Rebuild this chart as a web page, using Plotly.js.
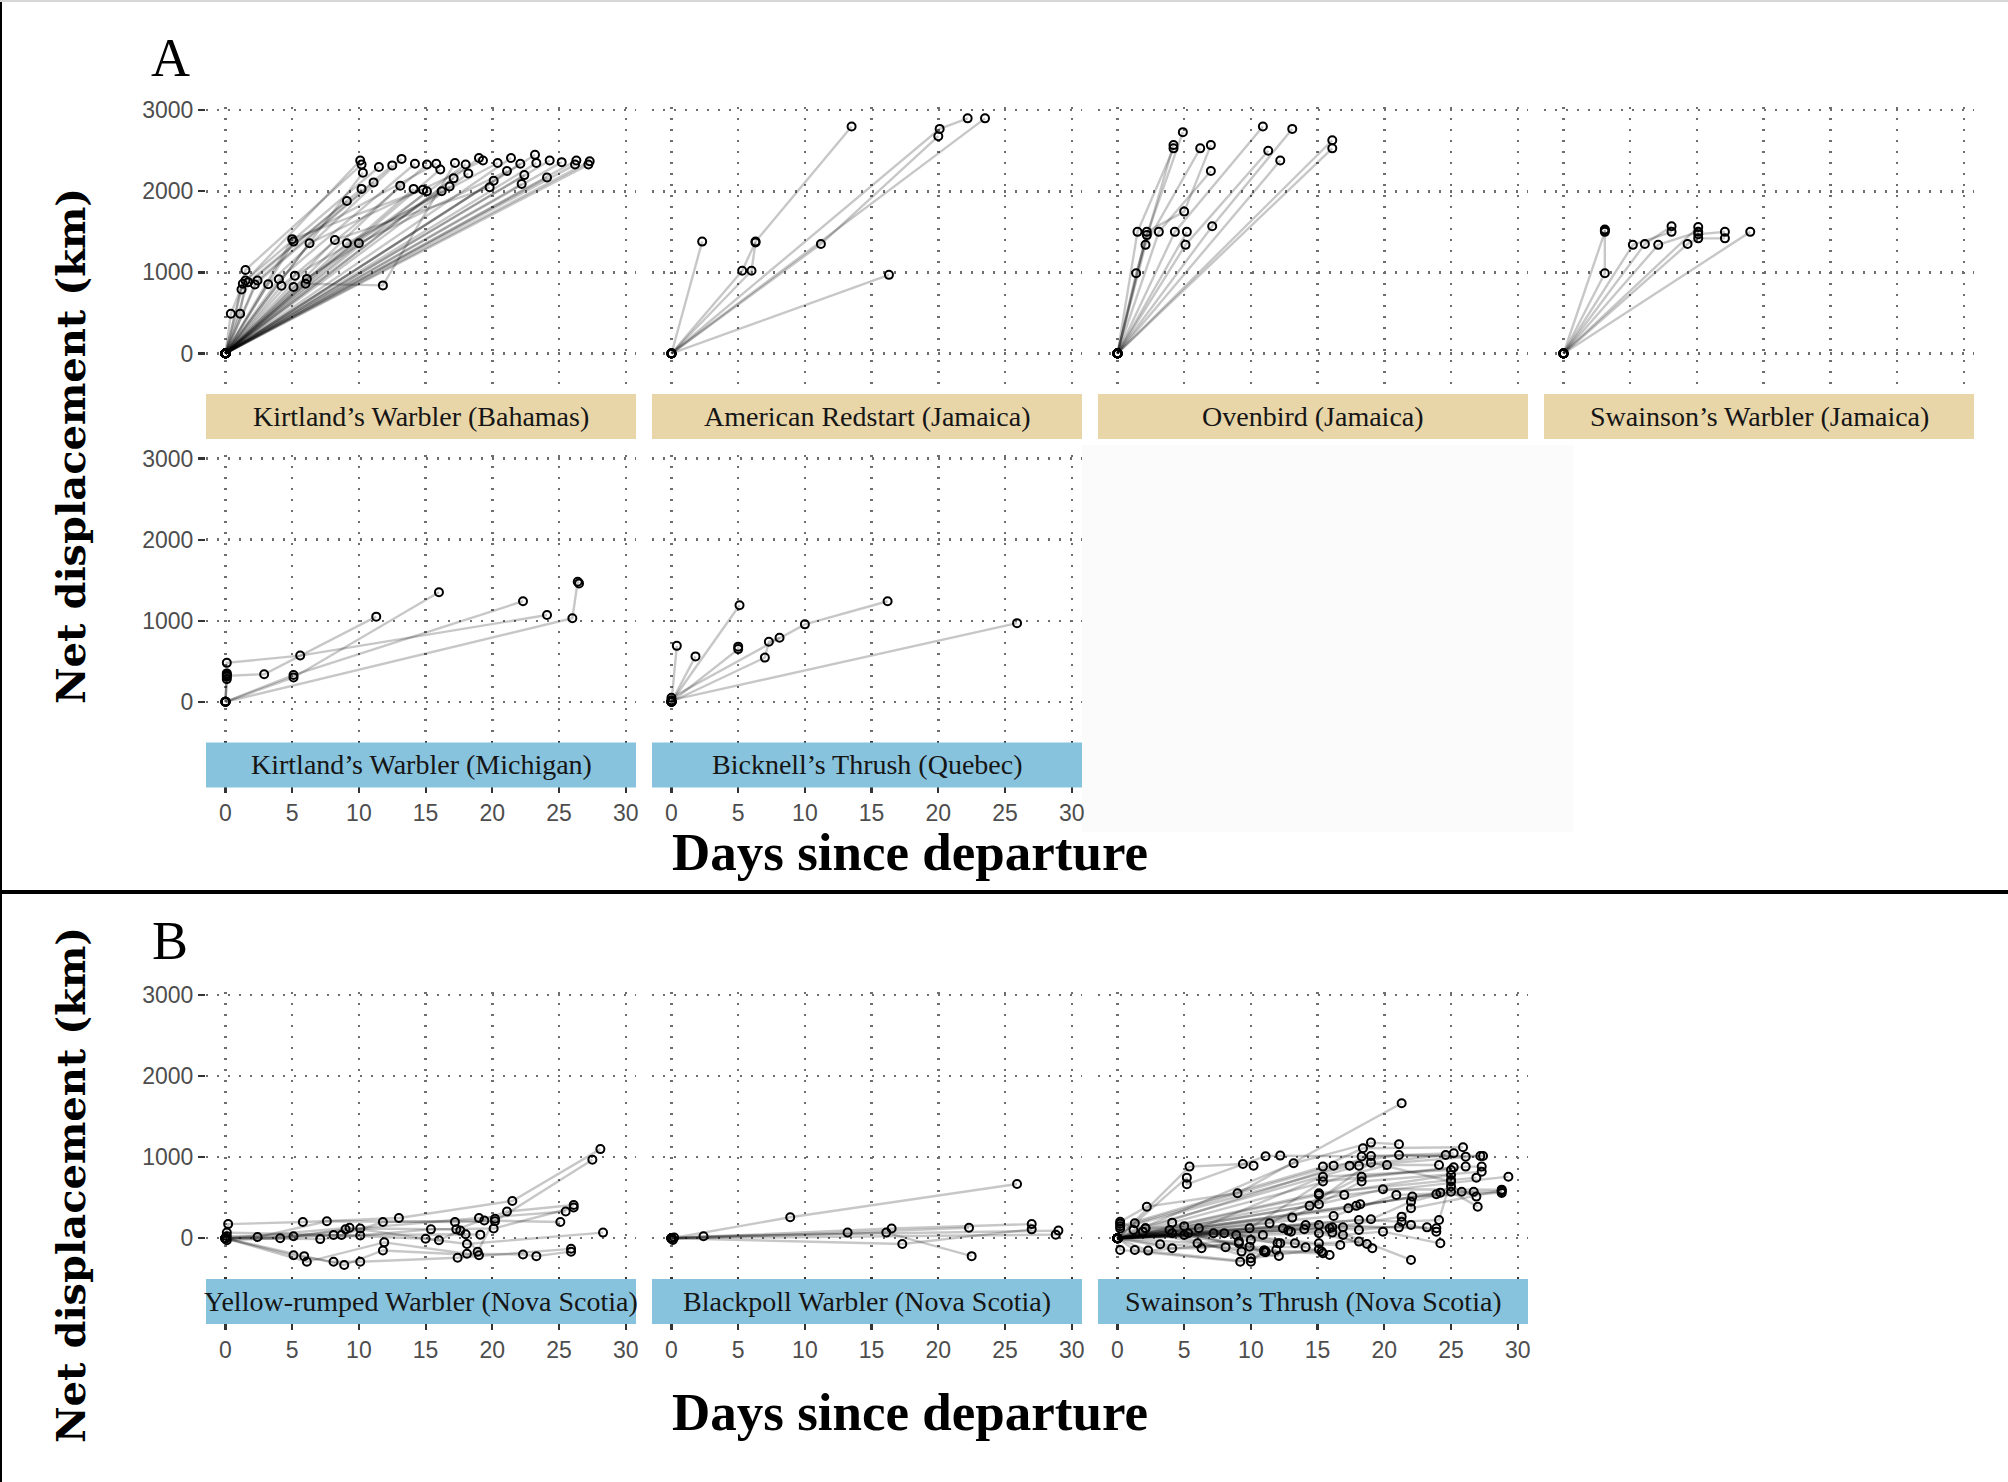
<!DOCTYPE html>
<html>
<head>
<meta charset="utf-8">
<script src="https://cdn.plot.ly/plotly-3.0.1.min.js"></script>
<style>
  body { margin: 0; background: #fff; }
  #chart { width: 2008px; height: 1482px; }
</style>
</head>
<body>
<div id="chart"></div>
<script>
// each track = one bird: [days since departure, net displacement km]
const kwBahamas = [
  [[0,0],[0.4,490],[1.3,860],[10.1,2380]],
  [[0,0],[1.1,490],[1.5,900],[11.5,2300]],
  [[0,0],[1.5,1030],[10.2,2330]],
  [[0,0],[1.2,790],[9.1,1880]],
  [[0,0],[1.7,880],[10.2,2030]],
  [[0,0],[2.2,850],[11.1,2110]],
  [[0,0],[2.4,900],[12.5,2320]],
  [[0,0],[3.2,855],[13.2,2400]],
  [[0,0],[4.0,915],[14.2,2340]],
  [[0,0],[4.2,835],[15.1,2330]],
  [[0,0],[5.0,1410],[14.8,2020]],
  [[0,0],[5.1,1380],[15.8,2340]],
  [[0,0],[5.1,820],[16.2,2000]],
  [[0,0],[5.2,960],[16.8,2060]],
  [[0,0],[6.0,860],[11.8,840],[17.2,2350]],
  [[0,0],[6.1,920],[18.0,2330]],
  [[0,0],[6.3,1360],[19.3,2380]],
  [[0,0],[8.2,1400],[19.8,2050]],
  [[0,0],[9.1,1360],[20.4,2350]],
  [[0,0],[10.0,1360],[21.1,2250]],
  [[0,0],[10.3,2230]],
  [[0,0],[13.1,2070]],
  [[0,0],[14.1,2030]],
  [[0,0],[15.1,2000]],
  [[0,0],[16.1,2270]],
  [[0,0],[17.1,2160]],
  [[0,0],[18.2,2220]],
  [[0,0],[19.0,2410]],
  [[0,0],[20.1,2130]],
  [[0,0],[21.4,2410]],
  [[0,0],[22.1,2340]],
  [[0,0],[22.2,2090]],
  [[0,0],[22.4,2200]],
  [[0,0],[23.2,2450]],
  [[0,0],[23.3,2350]],
  [[0,0],[24.1,2170]],
  [[0,0],[24.3,2380]],
  [[0,0],[25.2,2360]],
  [[0,0],[26.2,2330]],
  [[0,0],[26.3,2380]],
  [[0,0],[27.2,2330]],
  [[0,0],[27.3,2370]]
];

const amRedstart = [
  [[0,0],[2.3,1380]],
  [[0,0],[5.3,1020],[6.3,1380],[13.5,2800]],
  [[0,0],[6.0,1020],[6.3,1370]],
  [[0,0],[11.2,1350],[20.0,2680]],
  [[0,0],[20.1,2770],[22.2,2900]],
  [[0,0],[23.5,2900]],
  [[0,0],[16.3,970]]
];

const ovenbird = [
  [[0,0],[1.4,990],[4.2,2570]],
  [[0,0],[1.5,1500],[4.2,2530]],
  [[0,0],[2.2,1460],[4.9,2730]],
  [[0,0],[2.1,1340],[6.2,2530]],
  [[0,0],[2.2,1500],[5.0,1750],[7.0,2570]],
  [[0,0],[3.1,1500],[7.0,2250]],
  [[0,0],[4.3,1500],[10.9,2800]],
  [[0,0],[5.2,1500]],
  [[0,0],[5.1,1340],[11.3,2500]],
  [[0,0],[7.1,1570],[13.1,2770]],
  [[0,0],[12.2,2380]],
  [[0,0],[16.1,2630]],
  [[0,0],[16.1,2530]]
];

const swWarbler = [
  [[0,0],[3.1,1500],[3.1,1530]],
  [[0,0],[3.1,990],[3.1,1520]],
  [[0,0],[5.2,1340],[8.1,1500]],
  [[0,0],[6.1,1350],[8.1,1570]],
  [[0,0],[7.1,1340],[10.1,1500]],
  [[0,0],[9.3,1350],[10.1,1420],[12.1,1420]],
  [[0,0],[10.1,1560],[10.1,1470],[12.1,1500]],
  [[0,0],[14.0,1500]]
];

const kwMichigan = [
  [[0,0],[0.1,280],[0.1,340],[0.1,480],[5.6,570],[24.1,1070]],
  [[0,0],[0.1,320],[2.9,340],[11.3,1050]],
  [[0,0],[5.1,300],[16.0,1350]],
  [[0,0],[5.1,330],[22.3,1240]],
  [[0,0],[26.0,1030],[26.4,1480],[26.5,1460]],
  [[0,0],[0.1,350],[0.1,310]]
];

const bicknell = [
  [[0,0],[0.4,690]],
  [[0,0],[1.8,560]],
  [[0,0],[5.1,1190]],
  [[0,0],[5.0,650],[5.0,680]],
  [[0,0],[7.0,545],[7.3,740],[8.1,790]],
  [[0,0],[0,50],[10.0,955],[16.2,1240]],
  [[0,0],[0,20],[25.9,970]]
];

const yrWarbler = [
  [[0,0],[0.2,175],[5.8,200],[13.0,250],[21.5,460],[28.1,1100]],
  [[0,0],[2.4,15],[7.6,210],[17.2,200],[20.2,210],[27.5,970]],
  [[0,0],[4.1,0],[9.0,110],[19.0,250],[25.5,330]],
  [[0,0],[5.1,-210],[8.1,-290],[10.1,-290],[17.4,-240],[25.9,-130]],
  [[0,0],[5.9,-220],[8.9,-330],[11.8,-150],[19.0,-210]],
  [[0,0],[6.1,-290],[11.9,-50],[18.1,-190],[22.3,-200],[23.3,-220],[25.9,-165]],
  [[0,0],[5.1,25],[10.1,120],[17.3,110],[21.1,330],[26.1,410]],
  [[0,0],[7.1,-10],[10.1,35],[15.4,110],[20.1,120],[26.1,380]],
  [[0,0],[0.1,70],[8.1,40],[15.0,-5],[18.1,-70],[28.3,70]],
  [[0,0],[0.1,-25],[8.7,40],[11.8,200],[19.4,220],[25.1,200]],
  [[0,0],[9.3,130],[16.0,-25],[17.6,95],[18.9,-165],[20.2,240]],
  [[0,0],[0.1,25],[18.0,50],[19.1,45]]
];

const blackpoll = [
  [[0,0],[2.4,25],[29.0,95]],
  [[0,0],[8.9,260],[25.9,670]],
  [[0,0],[13.2,70],[22.3,130]],
  [[0,0],[16.1,70],[22.5,-220]],
  [[0,0],[16.5,120],[27.0,175]],
  [[0,0],[17.3,-70],[27.0,110]],
  [[0,0],[28.8,45]],
  [[0,0],[0.1,-20],[0.2,10]]
];

const swThrush = [
  [[0,0],[0.2,205],[2.2,390],[9.0,555],[21.3,1665]],
  [[0,0],[5.4,884],[9.4,916],[10.2,896]],
  [[0,0],[5.2,748],[5.2,666],[11.1,1012],[12.2,1020],[18.3,1008],[25.2,1048]],
  [[0,0],[13.2,925],[19.0,1180],[21.1,1160]],
  [[0,0],[0.2,150],[15.4,884],[18.4,1110],[25.9,1122]],
  [[0,0],[1.3,185],[16.2,896],[21.1,1028],[26.1,1007]],
  [[0,0],[0.2,120],[17.4,896],[24.6,1028]],
  [[0,0],[1.2,103],[18.1,896],[27.2,1015]],
  [[0,0],[2.1,123],[19.0,1015],[27.4,1015]],
  [[0,0],[4.1,193],[20.2,904],[24.1,904]],
  [[0,0],[6.1,123],[15.4,760],[25.0,843]],
  [[0,0],[9.9,123],[15.4,700],[26.1,884],[27.3,884]],
  [[0,0],[11.4,185],[18.3,760],[25.2,875]],
  [[0,0],[13.1,255],[18.3,700],[27.3,822]],
  [[0,0],[15.1,555],[26.9,748]],
  [[0,0],[15.1,535],[25.0,780]],
  [[0,0],[17.0,535],[29.3,760]],
  [[0,0],[14.4,400],[19.0,933],[25.0,700]],
  [[0,0],[15.1,420],[19.9,604],[28.8,600]],
  [[0,0],[16.2,275],[20.9,535],[28.8,580]],
  [[0,0],[17.3,370],[22.1,514],[28.8,560]],
  [[0,0],[17.9,400],[24.2,563],[25.8,575],[26.7,575]],
  [[0,0],[18.2,420],[23.9,543],[25.0,640],[26.9,514]],
  [[0,0],[19.0,234],[22.0,452],[25.0,575],[27.0,390]],
  [[0,0],[16.1,135],[21.3,267],[22.0,370],[28.8,590]],
  [[0,0],[18.1,226],[21.3,205],[24.1,226],[25.0,720]],
  [[0,0],[15.1,164],[21.1,135],[23.9,123]],
  [[0,0],[14.1,164],[18.1,103],[22.0,165],[23.9,82]],
  [[0,0],[12.4,123],[16.9,135],[23.2,135]],
  [[0,0],[14.0,111],[16.9,41],[19.9,82],[24.2,-62]],
  [[0,0],[12.8,95],[15.9,123],[22.0,-267]],
  [[0,0],[13.0,82],[16.1,70],[19.1,-123]],
  [[0,0],[10.9,41],[15.1,62],[18.7,-70]],
  [[0,0],[8.9,41],[15.1,-62],[18.1,-41]],
  [[0,0],[7.2,62],[12.2,-62],[16.7,-82]],
  [[0,0],[8.0,62],[13.3,-62],[15.9,-206]],
  [[0,0],[5.0,41],[11.0,-152],[15.3,-164]],
  [[0,0],[5.3,62],[11.1,-172],[15.4,-185]],
  [[0,0],[3.9,103],[9.9,-103],[14.1,-111]],
  [[0,0],[4.1,62],[10.0,-247],[15.1,-136]],
  [[0,0],[1.9,82],[9.3,-164],[12.1,-218]],
  [[0,0],[0.2,-144],[9.2,-288],[11.9,-144]],
  [[0,0],[1.3,-144],[10.0,-288],[11.0,-152]],
  [[0,0],[2.3,-152],[9.1,-62],[11.1,-160]],
  [[0,0],[3.2,-74],[8.1,-111],[11.0,-165]],
  [[0,0],[4.1,-123],[6.3,-123],[9.1,-40]],
  [[0,0],[6.0,-62],[10.0,-20],[12.0,-60]],
  [[0,0],[0.2,180],[2.1,123],[5.0,150]]
];

const xTicks = [0, 5, 10, 15, 20, 25, 30];
const yTicks = [0, 1000, 2000, 3000];

const TAN = '#e8d6a9', BLUE = '#88c3dd';

const panels = [
  {label: 'Kirtland’s Warbler (Bahamas)', tracks: kwBahamas, col: 0, row: 'A1', fill: TAN, xlab: false, ylab: true},
  {label: 'American Redstart (Jamaica)', tracks: amRedstart, col: 1, row: 'A1', fill: TAN, xlab: false, ylab: false},
  {label: 'Ovenbird (Jamaica)', tracks: ovenbird, col: 2, row: 'A1', fill: TAN, xlab: false, ylab: false},
  {label: 'Swainson’s Warbler (Jamaica)', tracks: swWarbler, col: 3, row: 'A1', fill: TAN, xlab: false, ylab: false},
  {label: 'Kirtland’s Warbler (Michigan)', tracks: kwMichigan, col: 0, row: 'A2', fill: BLUE, xlab: true, ylab: true},
  {label: 'Bicknell’s Thrush (Quebec)', tracks: bicknell, col: 1, row: 'A2', fill: BLUE, xlab: true, ylab: false},
  {label: 'Yellow-rumped Warbler (Nova Scotia)', tracks: yrWarbler, col: 0, row: 'B', fill: BLUE, xlab: true, ylab: true},
  {label: 'Blackpoll Warbler (Nova Scotia)', tracks: blackpoll, col: 1, row: 'B', fill: BLUE, xlab: true, ylab: false},
  {label: 'Swainson’s Thrush (Nova Scotia)', tracks: swThrush, col: 2, row: 'B', fill: BLUE, xlab: true, ylab: false}
];

// page geometry in pixels
const W = 2008, H = 1482;
const colLeft = [206, 652, 1098, 1544];
const panelW = 430, panelH = 284.6;
const rowTop = {A1: 107, A2: 455.3, B: 991.8};
const stripGap = 2.5, stripH = 45;
const px = v => v / W;
const py = v => 1 - v / H;

const tickFont = {family: 'Liberation Sans, Arial, sans-serif', size: 23, color: '#4d4d4d'};
const serif = 'Liberation Serif, Times New Roman, serif';

const traces = [];
const shapes = [];
const annotations = [];
const layout = {
  width: W, height: H,
  margin: {l: 0, r: 0, t: 0, b: 0},
  paper_bgcolor: '#fff',
  plot_bgcolor: 'rgba(0,0,0,0)',
  showlegend: false,
  hovermode: false
};

// faint off-white patch in the unused corner of panel A
shapes.push({type: 'rect', xref: 'paper', yref: 'paper', layer: 'below',
  x0: px(1082), x1: px(1573), y0: py(832), y1: py(445),
  fillcolor: '#fbfbfb', line: {width: 0}});

panels.forEach((p, i) => {
  const n = i === 0 ? '' : String(i + 1);
  const left = colLeft[p.col];
  const top = rowTop[p.row];
  const bottom = top + panelH;

  layout['xaxis' + n] = {
    domain: [px(left), px(left + panelW)],
    anchor: 'y' + n,
    range: [-1.46, 30.77],
    tickmode: 'array', tickvals: xTicks,
    showgrid: true, gridcolor: '#6e6e6e', gridwidth: 2.4, griddash: '2px,9px',
    zeroline: false, showline: false,
    ticks: p.xlab ? 'outside' : '',
    ticklen: stripGap + stripH + 5, tickwidth: 2.2, tickcolor: '#333',
    showticklabels: p.xlab, tickfont: tickFont,
    fixedrange: true
  };
  layout['yaxis' + n] = {
    domain: [py(bottom), py(top)],
    anchor: 'x' + n,
    range: [-470, 3040],
    tickmode: 'array', tickvals: yTicks,
    showgrid: true, gridcolor: '#6e6e6e', gridwidth: 2.4, griddash: '2px,9px',
    zeroline: false, showline: false,
    ticks: p.ylab ? 'outside' : '',
    ticklen: 7, tickwidth: 2.2, tickcolor: '#333',
    showticklabels: p.ylab, tickfont: tickFont,
    fixedrange: true
  };

  // one line trace per bird so the transparency builds up where tracks overlap
  p.tracks.forEach(t => {
    traces.push({
      type: 'scatter', mode: 'lines',
      x: t.map(d => d[0]), y: t.map(d => d[1]),
      xaxis: 'x' + n, yaxis: 'y' + n,
      line: {color: 'rgba(0,0,0,0.22)', width: 2.4},
      hoverinfo: 'skip'
    });
  });
  const pts = p.tracks.flat();
  traces.push({
    type: 'scatter', mode: 'markers',
    x: pts.map(d => d[0]), y: pts.map(d => d[1]),
    xaxis: 'x' + n, yaxis: 'y' + n,
    marker: {symbol: 'circle-open', size: 8, color: '#000', line: {width: 2, color: '#000'}},
    hoverinfo: 'skip'
  });

  // facet strip under each panel
  shapes.push({type: 'rect', xref: 'paper', yref: 'paper', layer: 'above',
    x0: px(left), x1: px(left + panelW),
    y0: py(bottom + stripGap + stripH), y1: py(bottom + stripGap),
    fillcolor: p.fill, line: {width: 0}});
  annotations.push({
    text: p.label, xref: 'paper', yref: 'paper', showarrow: false,
    x: px(left + panelW / 2), y: py(bottom + stripGap + stripH / 2),
    xanchor: 'center', yanchor: 'middle',
    font: {family: serif, size: 28, color: '#151515'}
  });
});

// panel letters and shared axis titles
[['A', 58], ['B', 941]].forEach(([t, y]) => {
  annotations.push({text: t, xref: 'paper', yref: 'paper', showarrow: false,
    x: px(170), y: py(y), xanchor: 'center', yanchor: 'middle',
    font: {family: serif, size: 54, color: '#000'}});
});
[446, 1185].forEach(y => {
  annotations.push({text: '<b>Net displacement (km)</b>', xref: 'paper', yref: 'paper', showarrow: false,
    x: px(70), y: py(y), xanchor: 'center', yanchor: 'middle', textangle: -90,
    font: {family: 'DejaVu Serif, serif', size: 40, color: '#000'}});
});
[852, 1412].forEach(y => {
  annotations.push({text: '<b>Days since departure</b>', xref: 'paper', yref: 'paper', showarrow: false,
    x: px(910), y: py(y), xanchor: 'center', yanchor: 'middle',
    font: {family: serif, size: 53, color: '#000'}});
});

// frame lines of the composite figure
shapes.push({type: 'line', xref: 'paper', yref: 'paper', x0: 0, x1: 1, y0: py(892), y1: py(892),
  line: {color: '#000', width: 4}});
shapes.push({type: 'line', xref: 'paper', yref: 'paper', x0: px(1), x1: px(1), y0: 0, y1: 1,
  line: {color: '#000', width: 2}});
shapes.push({type: 'line', xref: 'paper', yref: 'paper', x0: 0, x1: 1, y0: py(1), y1: py(1),
  line: {color: '#d6d6d6', width: 2}});

layout.shapes = shapes;
layout.annotations = annotations;

Plotly.newPlot('chart', traces, layout, {staticPlot: true, displayModeBar: false});
</script>
</body>
</html>
